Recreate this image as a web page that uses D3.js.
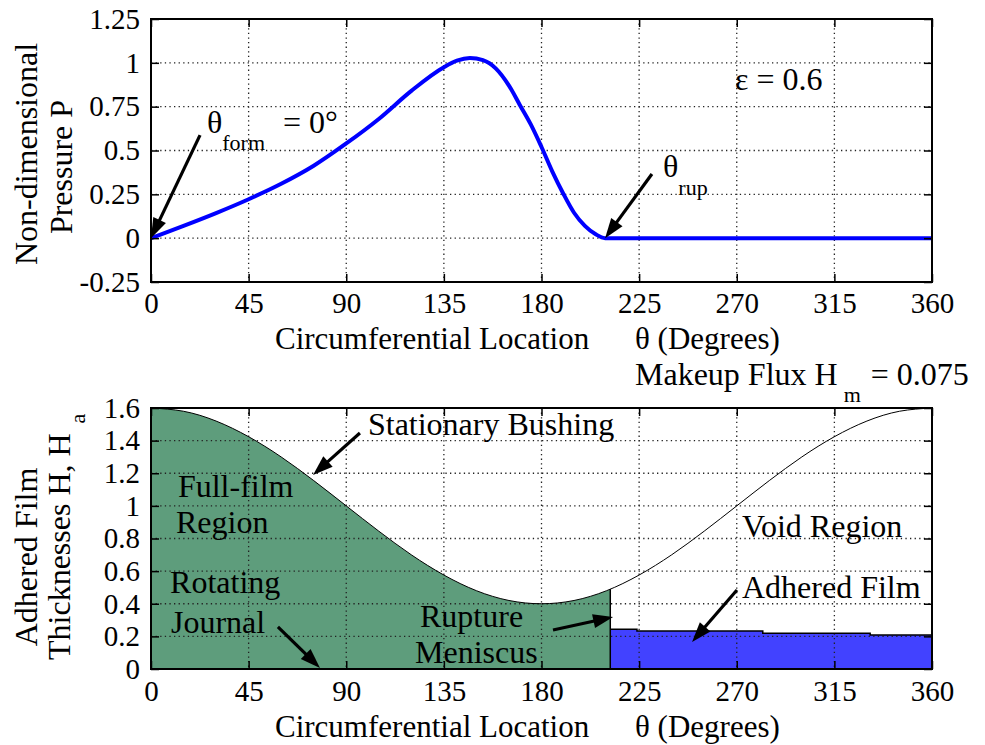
<!DOCTYPE html>
<html>
<head>
<meta charset="utf-8">
<script src="https://cdn.jsdelivr.net/npm/d3@7"></script>
<style>
  body { margin: 0; background: #fff; }
  svg text { font-family: "Liberation Serif", "Noto Serif", "DejaVu Serif", "FreeSerif", "Times New Roman", Times, serif; fill: #000; }
</style>
</head>
<body>
<svg id="chart" width="985" height="745"></svg>
<script>
// circumferential positions (degrees) shared by both panels
const thetaTicks = [0, 45, 90, 135, 180, 225, 270, 315, 360];
const pTicks = [-0.25, 0, 0.25, 0.5, 0.75, 1, 1.25];
const hTicks = [0, 0.2, 0.4, 0.6, 0.8, 1, 1.2, 1.4, 1.6];

// top panel: non-dimensional pressure, eps = 0.6
const pTheta = [0, 15, 30, 45, 60, 75, 90, 105, 120, 135, 141, 147, 153, 159, 165, 170, 175, 180, 185, 190, 195, 200, 205, 209.3, 240, 270, 300, 330, 360];
const pValue = [0, 0.07, 0.143, 0.222, 0.31, 0.413, 0.54, 0.68, 0.84, 0.975, 1.012, 1.027, 1.015, 0.967, 0.87, 0.76, 0.65, 0.52, 0.38, 0.255, 0.145, 0.07, 0.022, 0, 0, 0, 0, 0, 0];

// bottom panel: film thickness H (stationary bushing)
const hTheta = [0, 15, 30, 45, 60, 75, 90, 105, 120, 135, 150, 165, 180, 195, 210, 225, 240, 255, 270, 285, 300, 315, 330, 345, 360];
const hValue = [1.6, 1.58, 1.52, 1.424, 1.3, 1.155, 1.0, 0.845, 0.7, 0.576, 0.48, 0.42, 0.4, 0.42, 0.48, 0.576, 0.7, 0.845, 1.0, 1.155, 1.3, 1.424, 1.52, 1.58, 1.6];

// adhered film Ha after rupture (staircase)
const thetaRup = 211.7;
const aTheta = [211.7, 224, 282, 331.5, 360];
const aValue = [0.243, 0.233, 0.219, 0.208, 0.208];

const svg = d3.select("#chart");
const left = 151, right = 932;

const x = d3.scaleLinear().domain([0, 360]).range([left, right]);
const yP = d3.scaleLinear().domain([-0.25, 1.25]).range([282, 19]);
const yH = d3.scaleLinear().domain([0, 1.6]).range([669, 408]);

const green = "#5e9d7c";
const blueFill = "#4242ff";

function panel(y, yTicks, pad) {
  const [yb, yt] = y.range();
  const g = svg.append("g");
  const layers = {
    fills: g.append("g"),
    grid: g.append("g"),
    lines: g.append("g"),
    axes: g.append("g"),
    notes: g.append("g")
  };
  const grid = layers.grid.attr("stroke", "#222").attr("stroke-width", 1.3)
    .attr("stroke-dasharray", "1.3,3.3");
  grid.selectAll(".gx").data(thetaTicks.slice(1, -1)).join("line")
    .attr("x1", d => x(d)).attr("x2", d => x(d)).attr("y1", yt).attr("y2", yb);
  grid.selectAll(".gy").data(yTicks.slice(1, -1)).join("line")
    .attr("x1", left).attr("x2", right).attr("y1", d => y(d)).attr("y2", d => y(d));

  const style = sel => {
    sel.attr("font-family", null).attr("font-size", 29);
    sel.select(".domain").remove();
    sel.selectAll(".tick line").attr("stroke", "#000").attr("stroke-width", 1.5);
  };
  layers.axes.append("g").attr("transform", `translate(0,${yb})`)
    .call(d3.axisBottom(x).tickValues(thetaTicks).tickSizeInner(-8).tickSizeOuter(0)
      .tickPadding(pad).tickFormat(d3.format("d")))
    .call(style);
  layers.axes.append("g").attr("transform", `translate(0,${yt})`)
    .call(d3.axisTop(x).tickValues(thetaTicks).tickSizeInner(-8).tickSizeOuter(0).tickFormat(""))
    .call(style);
  layers.axes.append("g").attr("transform", `translate(${left},0)`)
    .call(d3.axisLeft(y).tickValues(yTicks).tickSizeInner(-8).tickSizeOuter(0)
      .tickPadding(11).tickFormat(d => String(d)))
    .call(style);
  layers.axes.append("g").attr("transform", `translate(${right},0)`)
    .call(d3.axisRight(y).tickValues(yTicks).tickSizeInner(-8).tickSizeOuter(0).tickFormat(""))
    .call(style);
  layers.axes.append("rect")
    .attr("x", left).attr("y", yt).attr("width", right - left).attr("height", yb - yt)
    .attr("fill", "none").attr("stroke", "#000").attr("stroke-width", 2);
  return layers;
}

function label(g, y, th, v, parts, size = 32) {
  const t = g.append("text").attr("x", x(th)).attr("y", y(v)).attr("font-size", size);
  let shift = 0;
  parts.forEach(p => {
    const want = p.sub || 0;
    const s = t.append("tspan").text(p.t).attr("dy", want - shift);
    shift = want;
    if (p.sub) s.attr("font-size", 22);
    if (p.dx) s.attr("dx", p.dx);
  });
  return t;
}

function arrow(g, y, a) {
  const x1 = x(a.from[0]), y1 = y(a.from[1]);
  const x2 = x(a.to[0]), y2 = y(a.to[1]);
  const len = Math.hypot(x2 - x1, y2 - y1);
  const ux = (x2 - x1) / len, uy = (y2 - y1) / len;
  const hl = 20, hw = 7;
  const bx = x2 - ux * hl, by = y2 - uy * hl;
  g.append("line").attr("x1", x1).attr("y1", y1).attr("x2", bx + ux * 2).attr("y2", by + uy * 2)
    .attr("stroke", "#000").attr("stroke-width", 3.2);
  g.append("path")
    .attr("d", `M${x2},${y2}L${bx - uy * hw},${by + ux * hw}L${bx + uy * hw},${by - ux * hw}Z`)
    .attr("fill", "#000");
}

// ---------- top panel ----------
const topP = panel(yP, pTicks, 10);
const pData = pTheta.map((t, i) => ({ t, v: pValue[i] }));
topP.lines.append("path").datum(pData)
  .attr("d", d3.line().x(d => x(d.t)).y(d => yP(d.v)).curve(d3.curveMonotoneX))
  .attr("fill", "none").attr("stroke", "#0000ff").attr("stroke-width", 4);

const topArrows = [
  { from: [22.6, 0.588], to: [0, 0] },
  { from: [230.9, 0.366], to: [209.3, 0] }
];
topArrows.forEach(a => arrow(topP.notes, yP, a));
label(topP.notes, yP, 25.8, 0.6, [{ t: "θ" }, { t: "form", sub: 17 }, { t: "= 0°", dx: 18 }]);
label(topP.notes, yP, 236, 0.35, [{ t: "θ" }, { t: "rup", sub: 18 }]);
label(topP.notes, yP, 269.2, 0.845, [{ t: "ε = 0.6" }]);

// ---------- bottom panel ----------
const botP = panel(yH, hTicks, 11);
const hData = hTheta.map((t, i) => ({ t, v: hValue[i] }));
const aData = aTheta.map((t, i) => ({ t, v: aValue[i] }));

const defs = svg.append("defs");
defs.append("clipPath").attr("id", "fullfilm").append("rect")
  .attr("x", x(0)).attr("y", yH(1.6)).attr("width", x(thetaRup) - x(0)).attr("height", yH(0) - yH(1.6));
const hArea = d3.area().x(d => x(d.t)).y0(yH(0)).y1(d => yH(d.v)).curve(d3.curveNatural);
defs.append("clipPath").attr("id", "underH").append("path").datum(hData).attr("d", hArea);

botP.fills.append("path").datum(hData).attr("d", hArea)
  .attr("fill", green).attr("clip-path", "url(#fullfilm)");
botP.fills.append("path").datum(aData)
  .attr("d", d3.area().x(d => x(d.t)).y0(yH(0)).y1(d => yH(d.v)).curve(d3.curveStepAfter))
  .attr("fill", blueFill);

botP.lines.append("path").datum(hData)
  .attr("d", d3.line().x(d => x(d.t)).y(d => yH(d.v)).curve(d3.curveNatural))
  .attr("fill", "none").attr("stroke", "#000").attr("stroke-width", 1);
botP.lines.append("line")
  .attr("x1", x(thetaRup)).attr("x2", x(thetaRup)).attr("y1", yH(0)).attr("y2", yH(1.6))
  .attr("stroke", "#000").attr("stroke-width", 1.5).attr("clip-path", "url(#underH)");
botP.lines.append("path").datum(aData)
  .attr("d", d3.line().x(d => x(d.t)).y(d => yH(d.v)).curve(d3.curveStepAfter))
  .attr("fill", "none").attr("stroke", "#000").attr("stroke-width", 1.5);

const botArrows = [
  { from: [96.3, 1.447], to: [74.7, 1.19] },
  { from: [58.5, 0.258], to: [77.9, 0.006] },
  { from: [185.3, 0.239], to: [213, 0.319] },
  { from: [270.1, 0.484], to: [249.4, 0.166] }
];
botArrows.forEach(a => arrow(botP.notes, yH, a));

const botNotes = [
  { t: "Stationary Bushing", th: 100, v: 1.435 },
  { t: "Full-film", th: 12.4, v: 1.055 },
  { t: "Region", th: 11.5, v: 0.834 },
  { t: "Rotating", th: 8.8, v: 0.466 },
  { t: "Journal", th: 9.2, v: 0.221 },
  { t: "Rupture", th: 124, v: 0.258 },
  { t: "Meniscus", th: 121.7, v: 0.037 },
  { t: "Void Region", th: 272.4, v: 0.809 },
  { t: "Adhered Film", th: 272.4, v: 0.435 }
];
botNotes.forEach(n => label(botP.notes, yH, n.th, n.v, [{ t: n.t }]));
label(botP.notes, yH, 223.1, 1.741, [{ t: "Makeup Flux H" }, { t: "m", sub: 17, dx: 6 }, { t: "= 0.075", dx: 10 }]);

// ---------- axis titles ----------
[349, 737].forEach(by => {
  svg.append("text").attr("x", 275).attr("y", by).attr("font-size", 31).text("Circumferential Location");
  svg.append("text").attr("x", 635).attr("y", by).attr("font-size", 31).text("θ (Degrees)");
});

function vlabel(cx, cy, txt, anchor = "middle") {
  return svg.append("text").attr("transform", `translate(${cx},${cy}) rotate(-90)`)
    .attr("text-anchor", anchor).attr("font-size", 32).text(txt);
}
vlabel(37, 154, "Non-dimensional");
vlabel(72, 167, "Pressure P");
vlabel(37, 557, "Adhered Film");
const th = vlabel(70, 660, "Thicknesses H, H", "start");
th.append("tspan").attr("dx", 10).attr("dy", 15).attr("font-size", 22).text("a");
</script>
</body>
</html>
